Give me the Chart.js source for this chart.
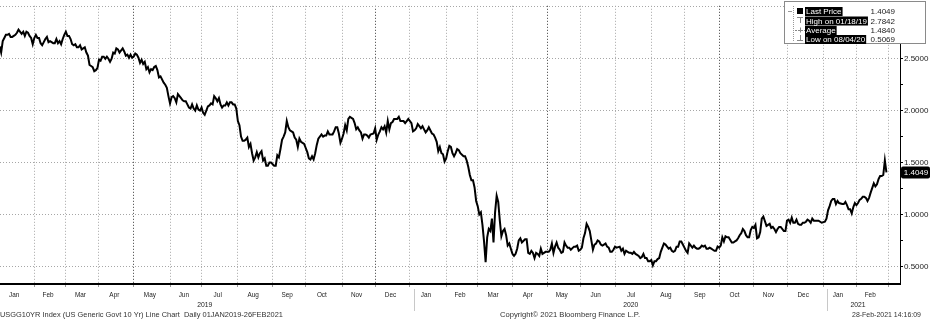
<!DOCTYPE html>
<html>
<head>
<meta charset="utf-8">
<script src="https://cdn.jsdelivr.net/npm/chart.js@4.4.1/dist/chart.umd.min.js"></script>
<style>
  html, body { margin: 0; padding: 0; background: #fff; }
  #wrap { width: 930px; height: 320px; }
</style>
</head>
<body>
<div id="wrap"><canvas id="chart" width="930" height="320"></canvas></div>
<script>
// US 10y generic yield, daily closes
var dates = [
  '2019-01-02','2019-01-03','2019-01-04','2019-01-07','2019-01-08','2019-01-09','2019-01-10','2019-01-11','2019-01-14','2019-01-15','2019-01-16','2019-01-17','2019-01-18','2019-01-22','2019-01-23','2019-01-24','2019-01-25','2019-01-28','2019-01-29','2019-01-30','2019-01-31',
  '2019-02-01','2019-02-04','2019-02-05','2019-02-06','2019-02-07','2019-02-08','2019-02-11','2019-02-12','2019-02-13','2019-02-14','2019-02-15','2019-02-19','2019-02-20','2019-02-21','2019-02-22','2019-02-25','2019-02-26','2019-02-27','2019-02-28',
  '2019-03-01','2019-03-04','2019-03-05','2019-03-06','2019-03-07','2019-03-08','2019-03-11','2019-03-12','2019-03-13','2019-03-14','2019-03-15','2019-03-18','2019-03-19','2019-03-20','2019-03-21','2019-03-22','2019-03-25','2019-03-26','2019-03-27','2019-03-28','2019-03-29',
  '2019-04-01','2019-04-02','2019-04-03','2019-04-04','2019-04-05','2019-04-08','2019-04-09','2019-04-10','2019-04-11','2019-04-12','2019-04-15','2019-04-16','2019-04-17','2019-04-18','2019-04-22','2019-04-23','2019-04-24','2019-04-25','2019-04-26','2019-04-29','2019-04-30',
  '2019-05-01','2019-05-02','2019-05-03','2019-05-06','2019-05-07','2019-05-08','2019-05-09','2019-05-10','2019-05-13','2019-05-14','2019-05-15','2019-05-16','2019-05-17','2019-05-20','2019-05-21','2019-05-22','2019-05-23','2019-05-24','2019-05-28','2019-05-29','2019-05-30','2019-05-31',
  '2019-06-03','2019-06-04','2019-06-05','2019-06-06','2019-06-07','2019-06-10','2019-06-11','2019-06-12','2019-06-13','2019-06-14','2019-06-17','2019-06-18','2019-06-19','2019-06-20','2019-06-21','2019-06-24','2019-06-25','2019-06-26','2019-06-27','2019-06-28',
  '2019-07-01','2019-07-02','2019-07-03','2019-07-05','2019-07-08','2019-07-09','2019-07-10','2019-07-11','2019-07-12','2019-07-15','2019-07-16','2019-07-17','2019-07-18','2019-07-19','2019-07-22','2019-07-23','2019-07-24','2019-07-25','2019-07-26','2019-07-29','2019-07-30','2019-07-31',
  '2019-08-01','2019-08-02','2019-08-05','2019-08-06','2019-08-07','2019-08-08','2019-08-09','2019-08-12','2019-08-13','2019-08-14','2019-08-15','2019-08-16','2019-08-19','2019-08-20','2019-08-21','2019-08-22','2019-08-23','2019-08-26','2019-08-27','2019-08-28','2019-08-29','2019-08-30',
  '2019-09-03','2019-09-04','2019-09-05','2019-09-06','2019-09-09','2019-09-10','2019-09-11','2019-09-12','2019-09-13','2019-09-16','2019-09-17','2019-09-18','2019-09-19','2019-09-20','2019-09-23','2019-09-24','2019-09-25','2019-09-26','2019-09-27','2019-09-30',
  '2019-10-01','2019-10-02','2019-10-03','2019-10-04','2019-10-07','2019-10-08','2019-10-09','2019-10-10','2019-10-11','2019-10-15','2019-10-16','2019-10-17','2019-10-18','2019-10-21','2019-10-22','2019-10-23','2019-10-24','2019-10-25','2019-10-28','2019-10-29','2019-10-30','2019-10-31',
  '2019-11-01','2019-11-04','2019-11-05','2019-11-06','2019-11-07','2019-11-08','2019-11-12','2019-11-13','2019-11-14','2019-11-15','2019-11-18','2019-11-19','2019-11-20','2019-11-21','2019-11-22','2019-11-25','2019-11-26','2019-11-27','2019-11-29',
  '2019-12-02','2019-12-03','2019-12-04','2019-12-05','2019-12-06','2019-12-09','2019-12-10','2019-12-11','2019-12-12','2019-12-13','2019-12-16','2019-12-17','2019-12-18','2019-12-19','2019-12-20','2019-12-23','2019-12-24','2019-12-26','2019-12-27','2019-12-30','2019-12-31',
  '2020-01-02','2020-01-03','2020-01-06','2020-01-07','2020-01-08','2020-01-09','2020-01-10','2020-01-13','2020-01-14','2020-01-15','2020-01-16','2020-01-17','2020-01-21','2020-01-22','2020-01-23','2020-01-24','2020-01-27','2020-01-28','2020-01-29','2020-01-30','2020-01-31',
  '2020-02-03','2020-02-04','2020-02-05','2020-02-06','2020-02-07','2020-02-10','2020-02-11','2020-02-12','2020-02-13','2020-02-14','2020-02-18','2020-02-19','2020-02-20','2020-02-21','2020-02-24','2020-02-25','2020-02-26','2020-02-27','2020-02-28',
  '2020-03-02','2020-03-03','2020-03-04','2020-03-05','2020-03-06','2020-03-09','2020-03-10','2020-03-11','2020-03-12','2020-03-13','2020-03-16','2020-03-17','2020-03-18','2020-03-19','2020-03-20','2020-03-23','2020-03-24','2020-03-25','2020-03-26','2020-03-27','2020-03-30','2020-03-31',
  '2020-04-01','2020-04-02','2020-04-03','2020-04-06','2020-04-07','2020-04-08','2020-04-09','2020-04-13','2020-04-14','2020-04-15','2020-04-16','2020-04-17','2020-04-20','2020-04-21','2020-04-22','2020-04-23','2020-04-24','2020-04-27','2020-04-28','2020-04-29','2020-04-30',
  '2020-05-01','2020-05-04','2020-05-05','2020-05-06','2020-05-07','2020-05-08','2020-05-11','2020-05-12','2020-05-13','2020-05-14','2020-05-15','2020-05-18','2020-05-19','2020-05-20','2020-05-21','2020-05-22','2020-05-26','2020-05-27','2020-05-28','2020-05-29',
  '2020-06-01','2020-06-02','2020-06-03','2020-06-04','2020-06-05','2020-06-08','2020-06-09','2020-06-10','2020-06-11','2020-06-12','2020-06-15','2020-06-16','2020-06-17','2020-06-18','2020-06-19','2020-06-22','2020-06-23','2020-06-24','2020-06-25','2020-06-26','2020-06-29','2020-06-30',
  '2020-07-01','2020-07-02','2020-07-06','2020-07-07','2020-07-08','2020-07-09','2020-07-10','2020-07-13','2020-07-14','2020-07-15','2020-07-16','2020-07-17','2020-07-20','2020-07-21','2020-07-22','2020-07-23','2020-07-24','2020-07-27','2020-07-28','2020-07-29','2020-07-30','2020-07-31',
  '2020-08-03','2020-08-04','2020-08-05','2020-08-06','2020-08-07','2020-08-10','2020-08-11','2020-08-12','2020-08-13','2020-08-14','2020-08-17','2020-08-18','2020-08-19','2020-08-20','2020-08-21','2020-08-24','2020-08-25','2020-08-26','2020-08-27','2020-08-28','2020-08-31',
  '2020-09-01','2020-09-02','2020-09-03','2020-09-04','2020-09-08','2020-09-09','2020-09-10','2020-09-11','2020-09-14','2020-09-15','2020-09-16','2020-09-17','2020-09-18','2020-09-21','2020-09-22','2020-09-23','2020-09-24','2020-09-25','2020-09-28','2020-09-29','2020-09-30',
  '2020-10-01','2020-10-02','2020-10-05','2020-10-06','2020-10-07','2020-10-08','2020-10-09','2020-10-13','2020-10-14','2020-10-15','2020-10-16','2020-10-19','2020-10-20','2020-10-21','2020-10-22','2020-10-23','2020-10-26','2020-10-27','2020-10-28','2020-10-29','2020-10-30',
  '2020-11-02','2020-11-03','2020-11-04','2020-11-05','2020-11-06','2020-11-09','2020-11-10','2020-11-12','2020-11-13','2020-11-16','2020-11-17','2020-11-18','2020-11-19','2020-11-20','2020-11-23','2020-11-24','2020-11-25','2020-11-27','2020-11-30',
  '2020-12-01','2020-12-02','2020-12-03','2020-12-04','2020-12-07','2020-12-08','2020-12-09','2020-12-10','2020-12-11','2020-12-14','2020-12-15','2020-12-16','2020-12-17','2020-12-18','2020-12-21','2020-12-22','2020-12-23','2020-12-24','2020-12-28','2020-12-29','2020-12-30','2020-12-31',
  '2021-01-04','2021-01-05','2021-01-06','2021-01-07','2021-01-08','2021-01-11','2021-01-12','2021-01-13','2021-01-14','2021-01-15','2021-01-19','2021-01-20','2021-01-21','2021-01-22','2021-01-25','2021-01-26','2021-01-27','2021-01-28','2021-01-29',
  '2021-02-01','2021-02-02','2021-02-03','2021-02-04','2021-02-05','2021-02-08','2021-02-09','2021-02-10','2021-02-11','2021-02-12','2021-02-16','2021-02-17','2021-02-18','2021-02-19','2021-02-22','2021-02-23','2021-02-24','2021-02-25','2021-02-26'
];
var yields = [
  2.62,2.56,2.67,2.70,2.73,2.73,2.74,2.71,2.71,2.72,2.73,2.75,2.78,2.74,2.76,2.72,2.76,2.75,2.72,2.70,2.64,
  2.70,2.73,2.70,2.70,2.65,2.63,2.66,2.69,2.71,2.66,2.67,2.65,2.65,2.69,2.65,2.67,2.64,2.69,2.73,
  2.76,2.72,2.72,2.69,2.64,2.63,2.64,2.61,2.61,2.63,2.59,2.60,2.61,2.56,2.53,2.44,2.43,2.42,2.38,2.39,2.41,
  2.49,2.48,2.52,2.52,2.50,2.52,2.50,2.47,2.50,2.56,2.55,2.60,2.59,2.56,2.60,2.57,2.53,2.54,2.51,2.54,2.51,
  2.52,2.55,2.54,2.51,2.46,2.49,2.45,2.47,2.40,2.42,2.37,2.40,2.39,2.42,2.43,2.39,2.32,2.33,2.27,2.25,2.22,2.14,
  2.07,2.13,2.14,2.12,2.08,2.16,2.14,2.12,2.10,2.09,2.09,2.06,2.03,2.02,2.06,2.02,2.00,2.05,2.01,2.00,
  2.03,1.98,1.96,2.04,2.05,2.07,2.06,2.14,2.12,2.09,2.12,2.06,2.03,2.05,2.05,2.08,2.05,2.08,2.08,2.06,2.06,2.02,
  1.90,1.86,1.75,1.71,1.71,1.72,1.74,1.65,1.68,1.59,1.52,1.55,1.60,1.55,1.59,1.61,1.52,1.54,1.47,1.47,1.50,1.50,
  1.47,1.47,1.57,1.55,1.63,1.72,1.75,1.79,1.90,1.84,1.81,1.80,1.79,1.74,1.72,1.65,1.73,1.70,1.69,1.68,
  1.64,1.60,1.54,1.53,1.56,1.53,1.59,1.67,1.73,1.77,1.75,1.76,1.76,1.80,1.77,1.77,1.77,1.80,1.84,1.84,1.78,1.69,
  1.73,1.78,1.86,1.81,1.92,1.94,1.92,1.88,1.82,1.84,1.81,1.79,1.73,1.77,1.77,1.76,1.74,1.77,1.78,
  1.83,1.72,1.77,1.80,1.84,1.82,1.85,1.79,1.90,1.82,1.88,1.89,1.92,1.92,1.92,1.94,1.90,1.90,1.88,1.90,1.92,
  1.88,1.80,1.81,1.83,1.87,1.85,1.83,1.85,1.82,1.79,1.81,1.84,1.78,1.77,1.74,1.70,1.61,1.65,1.59,1.58,1.51,
  1.54,1.61,1.66,1.65,1.59,1.56,1.59,1.63,1.62,1.59,1.56,1.56,1.52,1.46,1.38,1.33,1.33,1.26,1.13,
  1.08,1.00,1.02,0.90,0.74,0.54,0.78,0.86,0.84,0.96,0.73,1.02,1.18,1.12,0.94,0.79,0.84,0.86,0.80,0.70,0.72,0.67,
  0.62,0.60,0.62,0.67,0.75,0.77,0.73,0.76,0.76,0.63,0.62,0.65,0.63,0.58,0.63,0.62,0.60,0.67,0.62,0.63,0.64,
  0.64,0.64,0.66,0.72,0.63,0.69,0.73,0.68,0.66,0.63,0.64,0.73,0.70,0.68,0.68,0.66,0.69,0.69,0.70,0.65,
  0.66,0.68,0.77,0.82,0.91,0.88,0.84,0.75,0.66,0.71,0.72,0.75,0.74,0.71,0.70,0.71,0.72,0.69,0.68,0.64,0.64,0.66,
  0.69,0.68,0.69,0.65,0.67,0.62,0.65,0.64,0.63,0.63,0.62,0.64,0.62,0.61,0.60,0.58,0.59,0.62,0.58,0.58,0.55,0.55,
  0.56,0.51,0.55,0.55,0.57,0.58,0.64,0.68,0.72,0.71,0.69,0.67,0.68,0.65,0.64,0.65,0.69,0.69,0.74,0.74,0.71,
  0.68,0.65,0.63,0.72,0.68,0.70,0.68,0.67,0.67,0.68,0.70,0.69,0.70,0.67,0.67,0.68,0.67,0.66,0.65,0.65,0.69,
  0.68,0.70,0.78,0.74,0.79,0.78,0.78,0.73,0.73,0.74,0.75,0.77,0.80,0.82,0.86,0.84,0.80,0.78,0.78,0.85,0.88,
  0.87,0.90,0.77,0.78,0.83,0.96,0.98,0.89,0.90,0.91,0.87,0.88,0.86,0.83,0.86,0.88,0.88,0.84,0.84,
  0.94,0.95,0.92,0.97,0.92,0.92,0.95,0.91,0.90,0.90,0.92,0.92,0.93,0.95,0.94,0.92,0.96,0.94,0.94,0.94,0.93,0.92,
  0.93,0.96,1.04,1.08,1.13,1.15,1.15,1.10,1.13,1.11,1.10,1.10,1.12,1.09,1.05,1.05,1.01,1.07,1.11,
  1.09,1.11,1.14,1.15,1.17,1.17,1.16,1.13,1.16,1.21,1.30,1.27,1.29,1.34,1.37,1.37,1.38,1.52,1.4049
];

var monthNames = ['Jan','Feb','Mar','Apr','May','Jun','Jul','Aug','Sep','Oct','Nov','Dec'];
var yTicks = [0.5, 0.75, 1.0, 1.25, 1.5, 1.75, 2.0, 2.25, 2.5, 2.75, 3.0];
var yearLabels = ['2019', '2020', '2021'];
var yearAnchors = ['2019-07-03', '2020-07-15', '2021-02-02'];
var darkMonths = ['2019-05', '2019-12', '2020-05', '2020-10'];

var legendLabels = ['Last Price', 'High on 01/18/19', 'Average', 'Low on 08/04/20'];
var legendValues = ['1.4049', '2.7842', '1.4840', '0.5069'];
var lastPrice = 1.4049;

var footerLeft = 'USGG10YR Index (US Generic Govt 10 Yr) Line Chart  Daily 01JAN2019-26FEB2021';
var footerMid = 'Copyright\u00A9 2021 Bloomberg Finance L.P.';
var footerRight = '28-Feb-2021 14:16:09';

var FONT = '"Liberation Sans", Arial, sans-serif';

// weekday count since 1 Jan 2019 (Bloomberg plots business days evenly)
function tradeIndex(s) {
  var t = Date.UTC(+s.slice(0, 4), +s.slice(5, 7) - 1, +s.slice(8, 10));
  var n = 0;
  for (var d = Date.UTC(2019, 0, 1); d < t; d += 86400000) {
    var w = new Date(d).getUTCDay();
    if (w !== 0 && w !== 6) n++;
  }
  return n;
}
function pad(n) { return n < 10 ? '0' + n : '' + n; }

var points = dates.map(function (d, i) { return { x: tradeIndex(d), y: yields[i] }; });

var months = [];
for (var k = 0; k <= 26; k++) {
  var yy = 2019 + Math.floor(k / 12), mm = k % 12;
  var key = yy + '-' + pad(mm + 1);
  months.push({ key: key, name: monthNames[mm], idx: tradeIndex(key + '-01') });
}

var X_MIN = 1.267, X_MAX = 571.6;

function squeeze(ctx, str, x, y, sx, align) {
  var w = ctx.measureText(str).width;
  ctx.save();
  ctx.translate(x, y);
  ctx.scale(sx, 1);
  ctx.textAlign = 'left';
  var x0 = align === 'right' ? -w : (align === 'center' ? -w / 2 : 0);
  ctx.fillText(str, x0, 0);
  ctx.restore();
}
function fitWidth(ctx, str, x, y, width) {
  var w = ctx.measureText(str).width;
  squeeze(ctx, str, x, y, width / w, 'left');
}

var bbgExtras = {
  id: 'bbgExtras',
  afterDraw: function (chart) {
    var ctx = chart.ctx, xs = chart.scales.x, ys = chart.scales.y;
    ctx.save();
    ctx.textBaseline = 'middle';
    ctx.fillStyle = '#222';

    // month labels centred in each month
    ctx.font = '8px ' + FONT;
    for (var i = 0; i < months.length - 1; i++) {
      var cx = (xs.getPixelForValue(months[i].idx) + xs.getPixelForValue(months[i + 1].idx)) / 2 - 2;
      squeeze(ctx, months[i].name, cx, 294.5, 0.8, 'center');
    }
    // year labels
    for (var j = 0; j < yearLabels.length; j++) {
      squeeze(ctx, yearLabels[j], xs.getPixelForValue(tradeIndex(yearAnchors[j])), 305, 0.85, 'center');
    }
    // year separators
    ctx.strokeStyle = '#c8c8c8';
    ctx.lineWidth = 1;
    months.forEach(function (m) {
      if (m.name === 'Jan' && m.idx > X_MIN) {
        var px = Math.round(xs.getPixelForValue(m.idx)) + 4.5;
        ctx.beginPath(); ctx.moveTo(px, 289); ctx.lineTo(px, 311); ctx.stroke();
      }
    });

    // footer
    ctx.fillStyle = '#333';
    ctx.font = '8px ' + FONT;
    fitWidth(ctx, footerLeft, 0, 314.5, 283);
    fitWidth(ctx, footerMid, 500, 314.5, 140);
    fitWidth(ctx, footerRight, 852, 314.5, 69);

    // last price tag on the axis
    var ty = ys.getPixelForValue(lastPrice);
    ctx.fillStyle = '#000';
    ctx.beginPath();
    ctx.roundRect(901, ty - 6, 29, 12, 2);
    ctx.fill();
    ctx.fillStyle = '#fff';
    ctx.font = '8px ' + FONT;
    ctx.textAlign = 'center';
    ctx.fillText(lastPrice.toFixed(4), 916, ty + 0.5);

    // legend box
    ctx.fillStyle = '#fff';
    ctx.fillRect(784, 1, 142, 43);
    ctx.strokeStyle = '#8a8a8a';
    ctx.lineWidth = 1;
    ctx.strokeRect(784.5, 1.5, 141, 42);

    ctx.strokeStyle = '#999';
    ctx.setLineDash([1, 1]);
    ctx.beginPath(); ctx.moveTo(793.5, 6); ctx.lineTo(793.5, 42); ctx.stroke();
    ctx.setLineDash([]);
    ctx.beginPath(); ctx.moveTo(788, 11.5); ctx.lineTo(792, 11.5); ctx.stroke();
    ctx.fillStyle = '#000';
    ctx.fillRect(797, 8, 6, 6);
    ctx.strokeStyle = '#888';
    ctx.beginPath();
    ctx.moveTo(797, 17.5); ctx.lineTo(803, 17.5);
    ctx.moveTo(800.5, 17.5); ctx.lineTo(800.5, 23);
    ctx.moveTo(800.5, 27.5); ctx.lineTo(800.5, 32.5);
    ctx.moveTo(800.5, 35); ctx.lineTo(800.5, 41);
    ctx.moveTo(797, 40.5); ctx.lineTo(803, 40.5);
    ctx.stroke();
    ctx.setLineDash([2, 1]);
    ctx.beginPath(); ctx.moveTo(795, 30.5); ctx.lineTo(806, 30.5); ctx.stroke();
    ctx.setLineDash([]);

    var rowY = [11.5, 21, 30.5, 39.5];
    ctx.font = '8px ' + FONT;
    for (var r = 0; r < legendLabels.length; r++) {
      var tw = ctx.measureText(legendLabels[r]).width;
      ctx.fillStyle = '#000';
      ctx.fillRect(805, rowY[r] - 4.5, tw + 2, 9);
      ctx.fillStyle = '#fff';
      ctx.textAlign = 'left';
      ctx.fillText(legendLabels[r], 806, rowY[r] + 0.5);
      ctx.fillStyle = '#222';
      ctx.textAlign = 'right';
      ctx.fillText(legendValues[r], 895, rowY[r] + 0.5);
    }
    ctx.restore();
  }
};

new Chart(document.getElementById('chart').getContext('2d'), {
  type: 'line',
  data: {
    datasets: [{
      label: 'USGG10YR',
      data: points,
      borderColor: '#000',
      borderWidth: 2,
      pointRadius: 0,
      tension: 0
    }]
  },
  options: {
    responsive: false,
    animation: false,
    layout: { padding: 0 },
    plugins: { legend: { display: false }, tooltip: { enabled: false } },
    scales: {
      x: {
        type: 'linear',
        min: X_MIN,
        max: X_MAX,
        afterBuildTicks: function (s) {
          s.ticks = months.filter(function (m) { return m.idx > X_MIN && m.idx < X_MAX; })
                          .map(function (m) { return { value: m.idx }; });
        },
        afterFit: function (s) { s.height = 36; },
        ticks: { display: false, autoSkip: false },
        grid: {
          color: function (c) {
            var v = c.tick && c.tick.value;
            var dark = months.some(function (m) { return m.idx === v && darkMonths.indexOf(m.key) >= 0; });
            return dark ? '#3a3a3a' : '#a6a6a6';
          },
          lineWidth: 1,
          drawTicks: true,
          tickLength: 3,
          tickColor: '#999'
        },
        border: { display: true, color: '#000', width: 2, dash: [1, 2] }
      },
      y: {
        position: 'right',
        min: 0.33,
        max: 3.01,
        afterBuildTicks: function (s) {
          s.ticks = yTicks.map(function (v) { return { value: v }; });
        },
        afterFit: function (s) { s.width = 30; },
        ticks: {
          autoSkip: false,
          padding: 1,
          color: '#222',
          font: { family: FONT, size: 8 },
          callback: function (v) {
            return (Math.abs(v * 2 - Math.round(v * 2)) < 1e-6 && v < 2.9) ? Number(v).toFixed(4) : '';
          }
        },
        grid: {
          color: function (c) {
            var v = c.tick && c.tick.value;
            return Math.abs(v * 2 - Math.round(v * 2)) < 1e-6 ? '#a6a6a6' : 'rgba(0,0,0,0)';
          },
          lineWidth: 1,
          drawTicks: true,
          tickLength: 3,
          tickColor: '#000'
        },
        border: { display: true, color: '#000', width: 1, dash: [1, 2] }
      }
    }
  },
  plugins: [bbgExtras]
});
</script>
</body>
</html>
